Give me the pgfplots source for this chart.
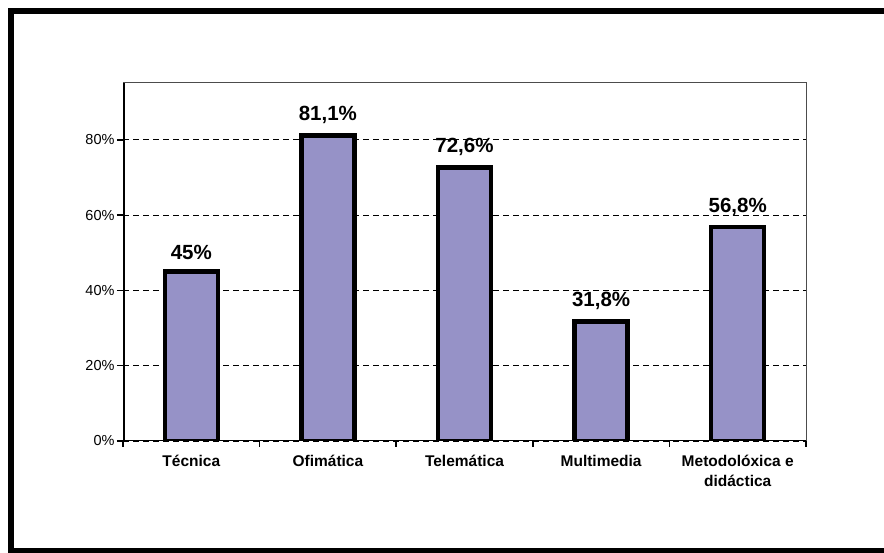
\documentclass[border=0pt]{standalone}
\usepackage{pgfplots}
\pgfplotsset{compat=1.18}
\usepackage{fontspec}
\setmainfont{Liberation Sans}
\definecolor{barfill}{RGB}{150,146,199}
\begin{document}
\begin{tikzpicture}[x=1pt,y=1pt]
\useasboundingbox (0,0) rectangle (884,553);
\clip (0,0) rectangle (884,553);
\draw[line width=6pt] (11,2) rectangle (895,542);
\begin{axis}[
  at={(123pt,112pt)}, anchor=south west,
  scale only axis, width=683pt, height=358pt,
  xmin=-0.5, xmax=4.5, ymin=0, ymax=0.951,
  axis line style={black!70, line width=1pt},
  ybar, bar width=53pt,
  ymajorgrids, grid style={black, dash pattern=on 6pt off 4pt, line width=0.9pt},
  ytick={0,0.2,0.4,0.6,0.8}, yticklabels={0\%,20\%,40\%,60\%,80\%},
  xtick={0,1,2,3,4},
  xticklabels={Técnica,Ofimática,Telemática,Multimedia,{Metodolóxica e\\didáctica}},
  tick pos=left,
  major tick length=0pt, minor tick length=6pt, tick align=outside,
  minor xtick={-0.5,0.5,1.5,2.5,3.5,4.5}, minor ytick={0,0.2,0.4,0.6,0.8},
  tick style={black, line width=1.5pt},
  xticklabel style={font=\fontsize{15.5}{20}\selectfont\bfseries, align=center, yshift=-11pt},
  yticklabel style={font=\fontsize{14.5}{16}\selectfont, xshift=-5pt},
  nodes near coords, point meta=explicit symbolic,
  every node near coord/.append style={font=\fontsize{20.5}{22}\selectfont\bfseries, yshift=6pt, black},
]
\addplot[fill=barfill, draw=black, line width=4.5pt] coordinates {
  (0,0.45) [45\%]
  (1,0.811) [81,1\%]
  (2,0.726) [72,6\%]
  (3,0.318) [31,8\%]
  (4,0.568) [56,8\%]
};
\draw[black, line width=3pt] (rel axis cs:0,0) -- (rel axis cs:0,1);
\draw[black, line width=2.5pt] (rel axis cs:0,0) -- (rel axis cs:1,0);
\end{axis}
\end{tikzpicture}
\end{document}
